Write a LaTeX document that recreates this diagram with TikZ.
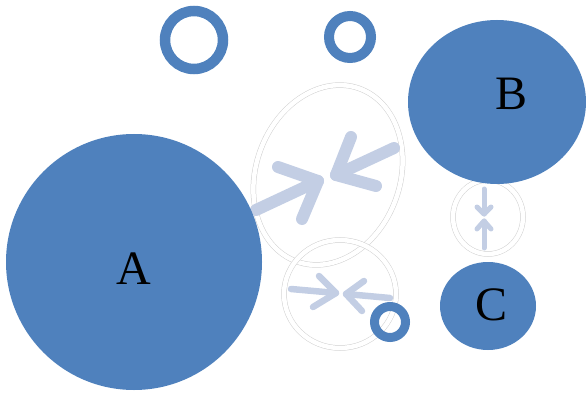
\documentclass[tikz,border=0pt]{standalone}
\usepackage{fontspec}
\setmainfont{Liberation Serif}
\usetikzlibrary{arrows.meta}
\definecolor{mainblue}{HTML}{4F81BD}
\definecolor{arrowblue}{HTML}{C3CEE4}
\definecolor{outline}{HTML}{D0D0D0}
\begin{document}
\begin{tikzpicture}[x=1pt,y=-1pt,
  blob/.style={fill=mainblue,draw=none},
  ringshape/.style={draw=mainblue,fill=none},
  frame/.style={draw=outline,line width=0.5pt,double=white,double distance=4.5pt},
  flow/.style={draw=arrowblue,line cap=round,line join=round},
  letter/.style={font=\fontsize{48}{48}\selectfont,text=black,anchor=base,inner sep=0pt}]
\useasboundingbox (0,0) rectangle (586,393);
% outlined ellipses
\draw[frame,rotate around={-20:(328,175)}] (328,175) ellipse [x radius=72, y radius=92];
\draw[frame] (340,294) ellipse [x radius=56, y radius=54];
\draw[frame] (488,217) ellipse [x radius=35, y radius=37];
% big arrows
\draw[flow,line width=12pt] (256,210) -- (318,181);
\draw[flow,line width=12pt] (278,167) -- (318,181) -- (302,219);
\draw[flow,line width=12pt] (394,148) -- (336,175);
\draw[flow,line width=12pt] (351,137) -- (336,175) -- (376,186);
% lower arrows
\draw[flow,line width=6.5pt] (291,289) -- (336,293);
\draw[flow,line width=6.5pt] (319,276) -- (336,293) -- (313,307);
\draw[flow,line width=6.5pt] (390,298) -- (346,294);
\draw[flow,line width=6.5pt] (364,281) -- (346,294) -- (362,311);
% small vertical arrows
\draw[flow,line width=5pt] (484,189) -- (484,214);
\draw[flow,line width=5pt] (477,207) -- (484,214) -- (491,207);
\draw[flow,line width=5pt] (484,248) -- (484,221);
\draw[flow,line width=5pt] (477,229) -- (484,221) -- (491,229);
% blue shapes
\node[blob,circle,minimum size=256pt,inner sep=0pt] (A) at (134,262) {};
\node[letter] (LA) at (133.5,284) {A};
\path[blob] (497,102) ellipse [x radius=89, y radius=82];
\node[letter] (B) at (511.5,110) {B};
\path[blob] (488,306) ellipse [x radius=48, y radius=44];
\node[letter] (C) at (491.5,320) {C};
\draw[ringshape,line width=10.5pt] (194,40) circle [radius=29];
\draw[ringshape,line width=10pt] (350,37) circle [radius=21];
\draw[ringshape,line width=9pt] (390,322) circle [radius=15.5];
\end{tikzpicture}
\end{document}
